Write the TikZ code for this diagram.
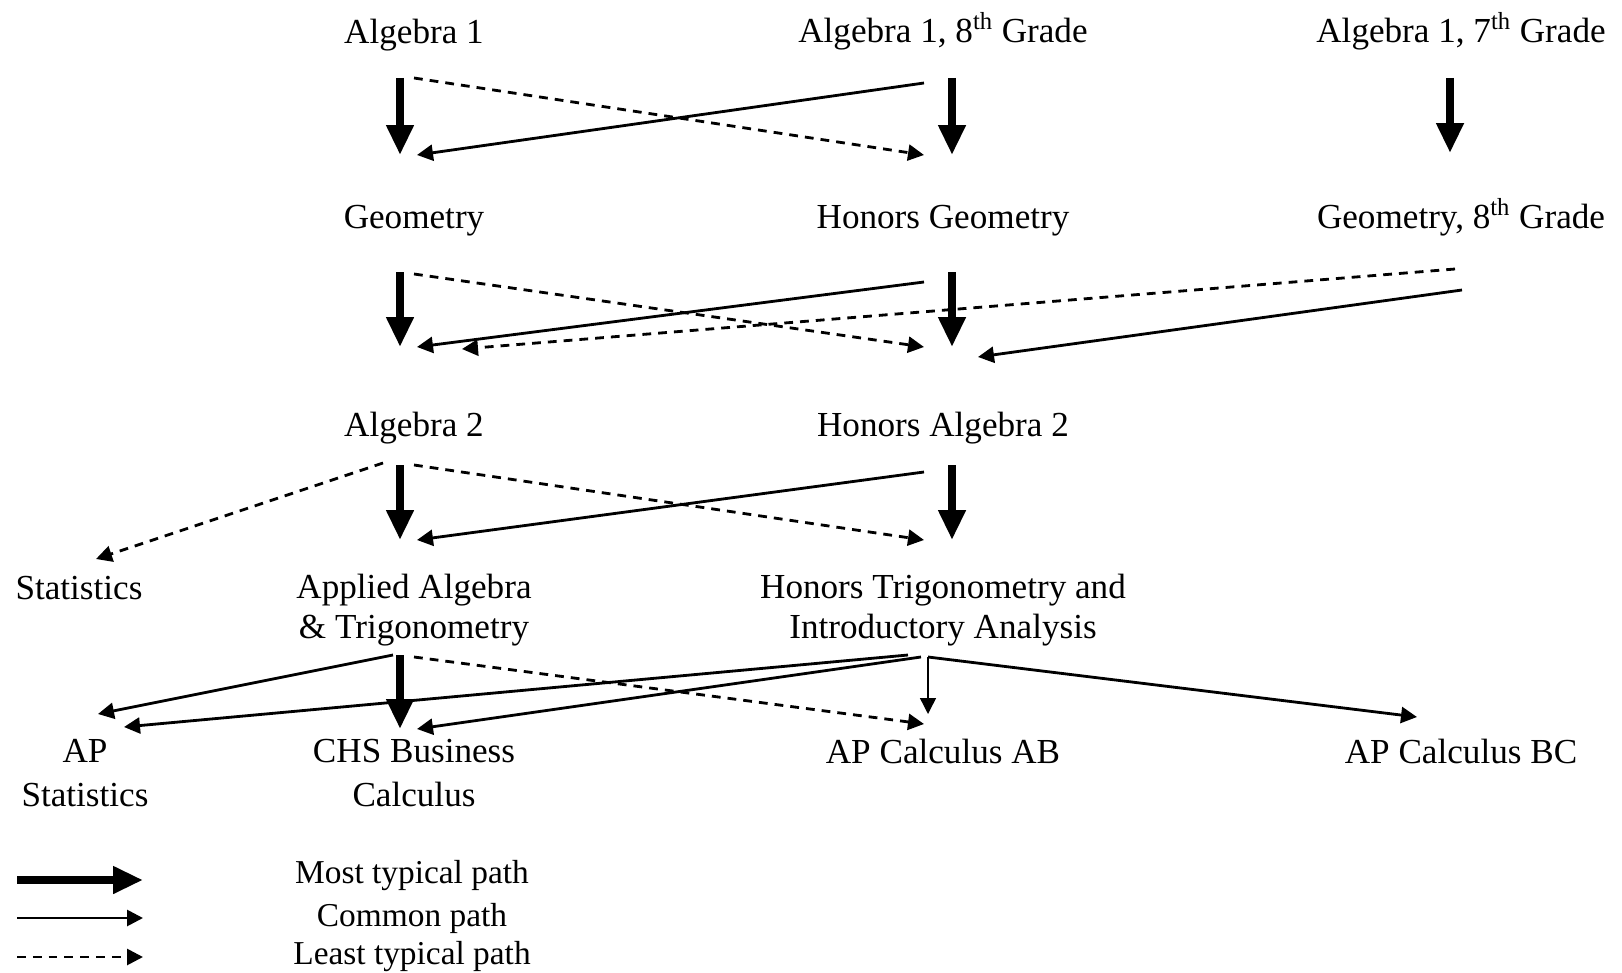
\documentclass[tikz,border=0pt]{standalone}
\usepackage{fontspec}
\setmainfont{Liberation Serif}
\usepackage{tikz}
\usetikzlibrary{calc,arrows.meta}

\begin{document}
\begin{tikzpicture}[x=0.02cm,y=-0.02cm,
  course/.style={font=\fontsize{20}{23}\selectfont, align=center, inner sep=0pt},
  widecourse/.style={course, font=\fontsize{20}{25.5}\selectfont},
  keytext/.style={font=\fontsize{19}{22}\selectfont, inner sep=0pt},
  mostpath/.style={line width=5pt, -{Triangle[length=0.6cm,width=0.52cm]}},
  commonpath/.style={line width=1.6pt, -{Triangle[length=0.32cm,width=0.32cm]}},
  thinpath/.style={commonpath, line width=0.8pt},
  leastpath/.style={commonpath, dash pattern=on 5pt off 4pt}]
\useasboundingbox (0,0) rectangle (1622,973);

\node[course] (alga) at (414,35) {Algebra 1};
\node[course] (algb) at (943,31) {Algebra 1, 8\textsuperscript{th} Grade};
\node[course] (algc) at (1461,31) {Algebra 1, 7\textsuperscript{th} Grade};

\node[course] (geo) at (414,221) {Geometry};
\node[course] (hgeo) at (943,221) {Honors Geometry};
\node[course] (geoc) at (1461,217) {Geometry, 8\textsuperscript{th} Grade};

\node[course] (algt) at (414,428) {Algebra 2};
\node[course] (halgt) at (943,428) {Honors Algebra 2};

\node[course] (stat) at (79,588) {Statistics};
\node[course] (appl) at (414,610) {Applied Algebra\\\& Trigonometry};
\node[course] (htrig) at (943,610) {Honors Trigonometry and\\Introductory Analysis};

\node[widecourse] (apstat) at (85,773) {AP\\Statistics};
\node[widecourse] (chs) at (414,773) {CHS Business\\Calculus};
\node[course] (ab) at (943,751) {AP Calculus AB};
\node[course] (bc) at (1461,751) {AP Calculus BC};

\draw[mostpath] ($(alga)+(-14,43)$) -- ($(geo)+(-14,-66)$);
\draw[mostpath] ($(algb)+(9,47)$) -- ($(hgeo)+(9,-66)$);
\draw[mostpath] ($(algc)+(-11,47)$) -- ($(geoc)+(-11,-64)$);
\draw[leastpath] ($(alga)+(0,43)$) -- ($(hgeo)+(-19,-66)$);
\draw[commonpath] ($(algb)+(-19,52)$) -- ($(geo)+(3,-66)$);

\draw[mostpath] ($(geo)+(-14,51)$) -- ($(algt)+(-14,-81)$);
\draw[mostpath] ($(hgeo)+(9,51)$) -- ($(halgt)+(9,-81)$);
\draw[leastpath] ($(geo)+(0,53)$) -- ($(halgt)+(-19,-81)$);
\draw[commonpath] ($(hgeo)+(-19,61)$) -- ($(algt)+(3,-81)$);
\draw[leastpath] ($(geoc)+(-6,52)$) -- ($(algt)+(48,-79)$);
\draw[commonpath] ($(geoc)+(1,73)$) -- ($(halgt)+(35,-71)$);

\draw[mostpath] ($(algt)+(-14,37)$) -- ($(appl)+(-14,-70)$);
\draw[mostpath] ($(halgt)+(9,37)$) -- ($(htrig)+(9,-70)$);
\draw[leastpath] ($(algt)+(-31,35)$) -- ($(stat)+(17,-29)$);
\draw[leastpath] ($(algt)+(0,37)$) -- ($(htrig)+(-19,-70)$);
\draw[commonpath] ($(halgt)+(-19,44)$) -- ($(appl)+(3,-70)$);

\draw[mostpath] ($(appl)+(-14,45)$) -- ($(chs)+(-14,-44)$);
\draw[commonpath] ($(appl)+(-21,45)$) -- ($(apstat)+(13,-59)$);
\draw[leastpath] ($(appl)+(0,47)$) -- ($(ab)+(-19,-27)$);
\draw[commonpath] ($(htrig)+(-35,45)$) -- ($(apstat)+(39,-46)$);
\draw[commonpath] ($(htrig)+(-22,47)$) -- ($(chs)+(3,-44)$);
\draw[thinpath] ($(htrig)+(-15,47)$) -- ($(ab)+(-15,-37)$);
\draw[commonpath] ($(htrig)+(-15,47)$) -- ($(bc)+(-44,-34)$);

\node[keytext] (most) at (412,876) {Most typical path};
\node[keytext] (common) at (412,918) {Common path};
\node[keytext] (least) at (412,957) {Least typical path};
\draw[mostpath] ($(most)+(-395,4)$) -- ($(most)+(-269,4)$);
\draw[commonpath] ($(common)+(-395,0)$) -- ($(common)+(-269,0)$);
\draw[leastpath] ($(least)+(-395,0)$) -- ($(least)+(-269,0)$);
\end{tikzpicture}
\end{document}
